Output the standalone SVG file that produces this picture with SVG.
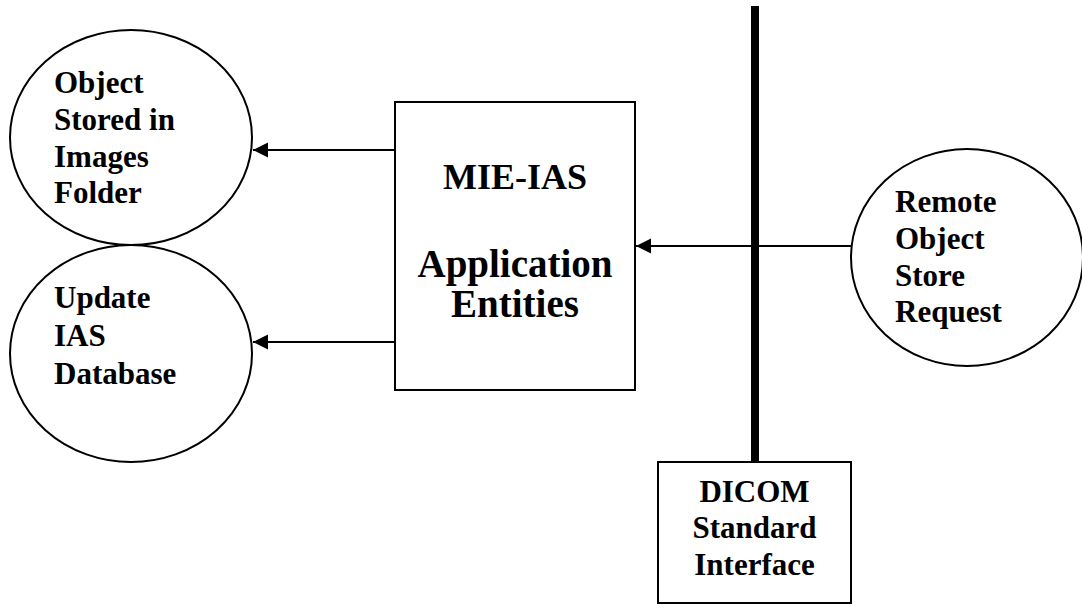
<svg xmlns="http://www.w3.org/2000/svg" width="1082" height="605" viewBox="0 0 1082 605">
  <style>
    .shape { fill: #ffffff; stroke: #000000; stroke-width: 2; }
    .lbl { font-family: "Liberation Serif", "Times New Roman", serif; font-weight: bold; font-size: 31px; fill: #000000; }
    .big { font-family: "Liberation Serif", "Times New Roman", serif; font-weight: bold; fill: #000000; text-anchor: middle; }
    .conn { stroke: #000000; stroke-width: 2; fill: none; }
  </style>
  <defs>
    <marker id="arrow" markerUnits="userSpaceOnUse" markerWidth="16" markerHeight="16" refX="15" refY="7.5" orient="auto">
      <path d="M0,0 L15,7.5 L0,15 Z" fill="#000000"/>
    </marker>
  </defs>
  <rect width="1082" height="605" fill="#ffffff"/>

  <g id="bus">
    <rect x="751" y="6" width="8" height="457" fill="#000000"/>
  </g>

  <g id="connectors">
    <line class="conn" x1="395" y1="150" x2="253" y2="150" marker-end="url(#arrow)"/>
    <line class="conn" x1="395" y1="342" x2="253" y2="342" marker-end="url(#arrow)"/>
    <line class="conn" x1="851" y1="246" x2="636" y2="246" marker-end="url(#arrow)"/>
  </g>

  <g id="node-images-folder">
    <ellipse class="shape" cx="131" cy="137.5" rx="121" ry="107.5"/>
    <text class="lbl" x="54" y="93">Object</text>
    <text class="lbl" x="54" y="130">Stored in</text>
    <text class="lbl" x="54" y="167">Images</text>
    <text class="lbl" x="54" y="203">Folder</text>
  </g>

  <g id="node-update-db">
    <ellipse class="shape" cx="131" cy="353.5" rx="121" ry="108.5"/>
    <text class="lbl" x="54" y="308">Update</text>
    <text class="lbl" x="54" y="346">IAS</text>
    <text class="lbl" x="54" y="384">Database</text>
  </g>

  <g id="node-mie-ias">
    <rect class="shape" x="395" y="102" width="240" height="288"/>
    <text class="big" x="515" y="189" font-size="36">MIE-IAS</text>
    <text class="big" x="515" y="277" font-size="39">Application</text>
    <text class="big" x="515" y="317" font-size="39">Entities</text>
  </g>

  <g id="node-remote-request">
    <ellipse class="shape" cx="967" cy="257.5" rx="116" ry="108.5"/>
    <text class="lbl" x="895" y="212">Remote</text>
    <text class="lbl" x="895" y="249">Object</text>
    <text class="lbl" x="895" y="286">Store</text>
    <text class="lbl" x="895" y="322">Request</text>
  </g>

  <g id="node-dicom">
    <rect class="shape" x="658" y="462" width="193" height="141"/>
    <text class="lbl" x="754.5" y="502" text-anchor="middle">DICOM</text>
    <text class="lbl" x="754.5" y="538" text-anchor="middle">Standard</text>
    <text class="lbl" x="754.5" y="575" text-anchor="middle">Interface</text>
  </g>
</svg>
